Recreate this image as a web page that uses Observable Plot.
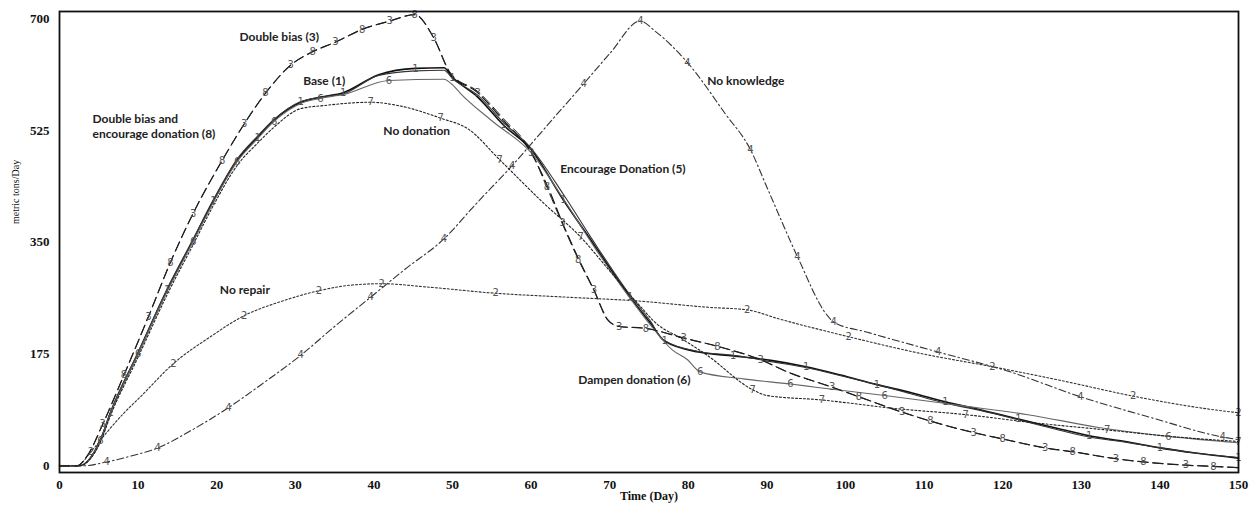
<!DOCTYPE html>
<html><head><meta charset="utf-8">
<script src="https://cdn.jsdelivr.net/npm/d3@7"></script>
<script src="https://cdn.jsdelivr.net/npm/@observablehq/plot@0.6"></script>
<style>html,body{margin:0;padding:0;background:#fff;overflow:hidden}</style>
</head><body><div id="chart"></div>
<script>
// ---- data (days, metric tons/Day) ----
const xTicks = [0,10,20,30,40,50,60,70,80,90,100,110,120,130,140,150];
const yTicks = [0,175,350,525,700];

// 1 Base
const x1 = [0,2.5,5.2,6.5,10,13.7,17,19.6,22.6,25.2,27.3,30.7,33.2,36.1,40.6,45.3,48.9,50,53.2,56.5,60,64.1,67.9,72.6,75.2,77,81.3,85.7,90.5,95,99.4,104,108.5,112.7,117.4,122,126.5,131,135.6,140,144.5,150];
const y1 = [0,0,40,83,176,275,353,415,478,514,541,569,577,584,612,622,623,608,577,533,495,416,348,264,223,195,178,172,165,155,142,127,114,100,87,73,60,47,38,28,20,12];
// 2 No repair
const x2 = [0,2.2,4,6,8,10.3,14.5,19.2,23.5,28.4,33,37.3,41,46.6,55.5,64.4,73.5,82.6,87.5,91.5,100.4,109.5,118.7,127.6,136.6,145.5,150];
const y2 = [0,0,22,52,80,108,160,202,235,258,274,283,285,280,270,264,258,248,244,230,202,176,155,133,109,90,83];
// 3 Double bias
const x3 = [0,2.2,3.5,5.5,8.2,11.3,14.1,17,20.7,23.5,26.2,29.4,32.2,35.1,38.5,42,45.2,47.6,49.7,53.2,56.5,60,62,64,66,68,69.8,71.2,74.6,79.4,83.7,89.2,92.6,98.3,101.7,107.2,110.8,116.3,120,125.4,128.9,134.4,137.9,143.3,146.8,150];
const y3 = [0,0,15,65,142,233,318,395,478,535,583,627,648,663,683,696,706,670,615,584,540,490,440,380,325,275,228,218,215,200,187,166,147,123,108,84,70,52,42,28,22,11,6,1,-1,-3];
// 4 No knowledge
const x4 = [0,3,6,9,12.5,17,21.5,26,30.7,35,39.6,44,48.9,53,57.6,62,66.7,70,73.9,75.8,79.9,84.7,87.9,90,93.9,97.7,98.5,102.8,111.8,120.7,129.9,139,148,150];
const y4 = [0,0,6,15,28,57,91,130,173,218,264,308,355,410,470,532,598,645,696,680,631,551,495,436,327,235,225,209,178,148,108,75,45,41];
// 5 Encourage donation
const x5 = [0,2.5,5.2,6.5,10,13.7,17,19.6,22.6,25.2,27.3,30.7,33.2,36.1,40.6,45.3,48.9,50,53.2,56.5,60,64.1,67.9,72.6,75.2,76.7,81.3,85.7,90.5,95.2,99.4,104,108.5,112.7,117.4,122,126.5,131,135.6,140,144.5,150];
const y5 = [0,0,41,85,178,277,355,417,480,516,542,570,577,582,611,618,619,606,580,537,497,425,352,267,226,198,179,173,163,153,141,127,112,98,86,72,58,45,37,28,20,13];
// 6 Dampen donation
const x6 = [0,2.5,5.2,6.5,10,13.7,17,19.6,22.6,25.2,27.3,30.7,33.2,36.1,41.9,48.9,50.1,51,55,60,64.1,67.9,72.6,75.2,78,79.9,81.5,87,93,96.2,105,114.2,123.2,132.2,141.1,150];
const y6 = [0,0,39,82,175,273,351,413,476,512,539,567,575,581,603,605,595,583,540,490,418,345,262,220,181,166,147,136,128,123,110,95,80,60,46,36];
// 7 No donation
const x7 = [0,2.5,5.2,6.5,10,13.7,17,19.6,22.6,25.2,27.3,30.7,33.8,39.6,43,48.5,52,56,61.6,66.3,70,73.5,76,79,82.4,88.2,90,97,106,115.3,124.2,133.3,142.2,150];
const y7 = [0,0,37,79,170,268,346,408,470,505,530,559,564,569,564,544,527,479,411,358,305,255,222,200,173,119,110,103,90,80,67,56,45,38];
// 8 Double bias and encourage donation
const x8 = [0,2.2,3.5,5.5,8.2,11.3,14.1,17,20.7,23.5,26.2,29.4,32.2,35.1,38.5,42,45.2,47.6,49.7,53.2,56.5,60,62,64,66,68,69.8,71.2,74.6,79.4,83.7,89.2,92.6,98.3,101.7,107.2,110.8,116.3,120,125.4,128.9,134.4,137.9,143.3,146.8,150];
const y8 = [0,0,15,65,142,233,318,395,478,535,583,627,648,663,683,696,706,670,615,586,543,492,436,378,323,274,227,218,215,200,187,166,147,123,108,84,70,52,42,28,22,11,6,1,-1,-3];

// annotations
const noteText = ["Double bias (3)","Base (1)","Double bias and\nencourage donation (8)","No donation","Encourage Donation (5)","No knowledge","No repair","Dampen donation (6)"];
const noteDay  = [22.9,31.0,4.2,41.2,63.7,82.4,20.4,66.0];
const noteVal  = [673,603,533,525,465,604,277,135];

// ---- build ----
const seriesX = [x1,x2,x3,x4,x5,x6,x7,x8];
const seriesY = [y1,y2,y3,y4,y5,y6,y7,y8];
const rows = seriesX.flatMap((xs, s) => xs.map((x, i) => ({series: s + 1, day: x, value: seriesY[s][i], i})));

const style = {
  1: {stroke: "#111", strokeWidth: 1.6, dash: null},
  2: {stroke: "#333", strokeWidth: 1.1, dash: "2,2"},
  3: {stroke: "#111", strokeWidth: 1.2, dash: "10,5"},
  4: {stroke: "#333", strokeWidth: 1.1, dash: "7,3,1.5,3"},
  5: {stroke: "#333", strokeWidth: 1.1, dash: null},
  6: {stroke: "#666", strokeWidth: 1.1, dash: null},
  7: {stroke: "#222", strokeWidth: 1.1, dash: "2,2"},
  8: {stroke: "#222", strokeWidth: 1.0, dash: "10,5"}
};

const lineMarks = [1,2,3,4,5,6,7,8].map(s => Plot.line(rows.filter(d => d.series === s), {
  x: "day", y: "value", stroke: style[s].stroke, strokeWidth: style[s].strokeWidth,
  strokeDasharray: style[s].dash, curve: "monotone-x"
}));

// series number markers: every other point, skipping ones that would collide
const kx = 1179 / 150, ky = 461 / 721.5;
const picked = [];
for (const d of rows) {
  if (d.day < 3 || d.i % 2 !== d.series % 2) continue;
  if (picked.some(p => Math.hypot((p.day - d.day) * kx, (p.value - d.value) * ky) < 13)) continue;
  picked.push(d);
}
const notes = noteText.map((t, i) => ({t, day: noteDay[i], value: noteVal[i]}));

const chart = Plot.plot({
  width: 1255, height: 506,
  marginLeft: 59, marginRight: 17, marginTop: 11, marginBottom: 34,
  x: {domain: [0, 150]},
  y: {domain: [-10.5, 711]},
  style: {fontFamily: "Liberation Serif", fontWeight: "bold", background: "#fff", color: "#111"},
  marks: [
    ...lineMarks,
    Plot.text(picked, {x: "day", y: "value", text: d => String(d.series), fontSize: 10, fontWeight: "normal", fontFamily: "DejaVu Sans", fill: "#555"}),
    Plot.text(notes, {x: "day", y: "value", text: "t", textAnchor: "start", fontSize: 12, fontWeight: "bold", fontFamily: "Lato", fill: "#222", lineHeight: 1.25}),
    Plot.axisX({ticks: xTicks, tickSize: 0, tickPadding: 7, fontSize: 13, fontWeight: "bold", fontFamily: "Liberation Serif", label: null}),
    Plot.axisY({ticks: yTicks, tickSize: 0, tickPadding: 10, fontSize: 13, fontWeight: "bold", fontFamily: "Liberation Serif", label: null}),
    Plot.text(["Time (Day)"], {frameAnchor: "bottom", dy: 27, fontSize: 12, fontWeight: "bold", fontFamily: "Liberation Serif"}),
    Plot.text(["metric tons/Day"], {frameAnchor: "left", dx: -44, dy: -18, rotate: -90, fontSize: 10, fontWeight: "normal", fontFamily: "Liberation Serif"}),
    Plot.frame({stroke: "#111", strokeWidth: 1.8})
  ]
});
document.getElementById("chart").appendChild(chart);
</script>
</body></html>
